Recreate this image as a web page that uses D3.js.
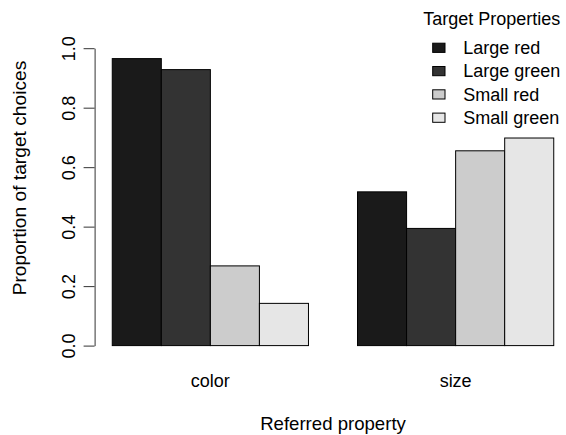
<!DOCTYPE html>
<html>
<head>
<meta charset="utf-8">
<script src="https://cdn.jsdelivr.net/npm/d3@7"></script>
<style>
  html, body { margin: 0; padding: 0; background: #fff; }
  svg { display: block; font-family: "Liberation Sans", Arial, sans-serif; }
</style>
</head>
<body>
<svg id="chart" width="566" height="435"></svg>
<script>
// Referred property groups and target-property series
const categories = ["color", "size"];
const seriesNames = ["Large red", "Large green", "Small red", "Small green"];
const seriesFills = ["#1a1a1a", "#333333", "#cccccc", "#e6e6e6"];

// Proportion of target choices, one value per category
const largeRed   = [0.965, 0.517];
const largeGreen = [0.928, 0.394];
const smallRed   = [0.268, 0.655];
const smallGreen = [0.142, 0.698];
const seriesValues = [largeRed, largeGreen, smallRed, smallGreen];

const yTicks = [0, 0.2, 0.4, 0.6, 0.8, 1.0];

const svg = d3.select("#chart");
const fontSize = 18;

// Bars sit on unit slots: one empty slot before each group, bars of width 1
const nSeries = seriesNames.length;
const groupStart = g => 1 + g * (nSeries + 1);
const x = d3.scaleLinear().domain([0.64, 10.36]).range([94.6, 571.4]);
const y = d3.scaleLinear().domain([0, 1]).range([345.6, 48.2]);

const bars = [];
categories.forEach((c, g) => {
  seriesValues.forEach((vals, s) => {
    bars.push({ cat: c, g, s, value: vals[g] });
  });
});

svg.append("g")
  .selectAll("rect")
  .data(bars)
  .join("rect")
  .attr("x", d => x(groupStart(d.g) + d.s))
  .attr("width", d => x(groupStart(d.g) + d.s + 1) - x(groupStart(d.g) + d.s))
  .attr("y", d => y(d.value))
  .attr("height", d => y(0) - y(d.value))
  .attr("fill", d => seriesFills[d.s])
  .attr("stroke", "#000")
  .attr("stroke-width", 1);

// Y axis with rotated tick labels
const yAxis = svg.append("g")
  .attr("transform", `translate(${x.range()[0]},0)`)
  .call(d3.axisLeft(y).tickValues(yTicks).tickFormat(d3.format(".1f")).tickSize(11).tickSizeOuter(0));
yAxis.select(".domain").attr("stroke", "#333");
yAxis.selectAll(".tick line").attr("stroke", "#333");
yAxis.selectAll(".tick text")
  .attr("x", 0).attr("y", 0).attr("dy", null)
  .attr("transform", "translate(-19.6,0) rotate(-90)")
  .attr("text-anchor", "middle")
  .attr("fill", "#000")
  .style("font-size", fontSize + "px")
  .style("font-family", "Liberation Sans, Arial, sans-serif");

// Group labels under the bars
svg.append("g")
  .selectAll("text")
  .data(categories)
  .join("text")
  .attr("x", (c, g) => x(groupStart(g) + nSeries / 2))
  .attr("y", 386.7)
  .attr("text-anchor", "middle")
  .style("font-size", fontSize + "px")
  .text(c => c);

// Axis titles
svg.append("text")
  .attr("x", (x.range()[0] + x.range()[1]) / 2)
  .attr("y", 430)
  .attr("text-anchor", "middle")
  .style("font-size", "18.6px")
  .text("Referred property");

svg.append("text")
  .attr("transform", "translate(25.5,178) rotate(-90)")
  .attr("text-anchor", "middle")
  .style("font-size", "19.2px")
  .text("Proportion of target choices");

// Legend
const legend = svg.append("g");
legend.append("text")
  .attr("x", 491.7)
  .attr("y", 25)
  .attr("text-anchor", "middle")
  .style("font-size", fontSize + "px")
  .text("Target Properties");

const rowY = d3.scaleLinear().domain([0, 1]).range([47.8, 71.1]);
const items = legend.selectAll("g.item")
  .data(seriesNames)
  .join("g")
  .attr("class", "item")
  .attr("transform", (d, i) => `translate(0,${rowY(i)})`);
items.append("rect")
  .attr("x", 432.7).attr("y", -4.6)
  .attr("width", 12.3).attr("height", 9.2)
  .attr("fill", (d, i) => seriesFills[i])
  .attr("stroke", "#000");
items.append("text")
  .attr("x", 463.3)
  .attr("y", 6.3)
  .style("font-size", fontSize + "px")
  .text(d => d);
</script>
</body>
</html>
